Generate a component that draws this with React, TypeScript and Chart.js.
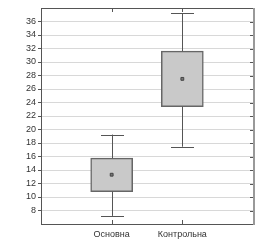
import React, { useEffect, useRef } from "react";
import { Chart, registerables } from "chart.js";

Chart.register(...registerables);

const categories = ["", "Основна", "Контрольна", ""];
const q1 = [null, 10.8, 23.4, null];
const q3 = [null, 15.75, 31.6, null];
const medians = [null, 13.3, 27.5, null];
const mins = [null, 7.2, 17.45, null];
const maxs = [null, 19.25, 37.2, null];
const yTicks = [8, 10, 12, 14, 16, 18, 20, 22, 24, 26, 28, 30, 32, 34, 36];

const FONT = "'Liberation Sans', Arial, sans-serif";

const framePlugin = {
  id: "frame",
  afterDatasetsDraw(chart: any) {
    const { ctx, chartArea, scales } = chart;
    const x = scales.x;
    const y = scales.y;
    const { left, right, top, bottom } = chartArea;
    ctx.save();
    ctx.strokeStyle = "#555";
    ctx.lineWidth = 1;
    for (let i = 0; i < categories.length; i++) {
      if (mins[i] == null) continue;
      const cx = Math.round(x.getPixelForValue(i)) + 0.5;
      const yMin = y.getPixelForValue(mins[i]);
      const yMax = y.getPixelForValue(maxs[i]);
      const yQ1 = y.getPixelForValue(q1[i]);
      const yQ3 = y.getPixelForValue(q3[i]);
      const half = 11.5;
      ctx.beginPath();
      ctx.moveTo(cx, yQ3);
      ctx.lineTo(cx, yMax);
      ctx.moveTo(cx - half, Math.round(yMax) + 0.5);
      ctx.lineTo(cx + half, Math.round(yMax) + 0.5);
      ctx.moveTo(cx, yQ1);
      ctx.lineTo(cx, yMin);
      ctx.moveTo(cx - half, Math.round(yMin) + 0.5);
      ctx.lineTo(cx + half, Math.round(yMin) + 0.5);
      ctx.stroke();
    }
    ctx.strokeStyle = "#555";
    ctx.lineWidth = 1;
    ctx.beginPath();
    ctx.moveTo(left, top + 0.5);
    ctx.lineTo(right, top + 0.5);
    ctx.moveTo(left, bottom + 0.5);
    ctx.lineTo(right, bottom + 0.5);
    ctx.stroke();
    ctx.strokeStyle = "#999";
    ctx.lineWidth = 2;
    ctx.beginPath();
    ctx.moveTo(right + 1, top);
    ctx.lineTo(right + 1, bottom + 1);
    ctx.stroke();
    ctx.strokeStyle = "#555";
    ctx.lineWidth = 1;
    ctx.beginPath();
    for (const v of yTicks) {
      const py = Math.round(y.getPixelForValue(v)) + 0.5;
      ctx.moveTo(right - 3, py);
      ctx.lineTo(right, py);
    }
    for (let i = 0; i < categories.length; i++) {
      if (!categories[i]) continue;
      const px = Math.round(x.getPixelForValue(i)) + 0.5;
      ctx.moveTo(px, top);
      ctx.lineTo(px, top + 4);
      ctx.moveTo(px, bottom);
      ctx.lineTo(px, bottom - 4);
    }
    ctx.stroke();
    ctx.restore();
  },
};

export default function App() {
  const ref = useRef<HTMLCanvasElement | null>(null);
  useEffect(() => {
    if (!ref.current) return;
    const chart = new Chart(ref.current, {
      type: "bar",
      data: {
        labels: categories,
        datasets: [
          {
            type: "bar",
            order: 2,
            data: categories.map((_, i) => (q1[i] == null ? null : [q1[i], q3[i]])) as any,
            backgroundColor: "#c9c9c9",
            borderColor: "#666",
            borderWidth: 1.5,
            borderSkipped: false,
            barThickness: 42,
          } as any,
          {
            type: "line",
            order: 1,
            data: medians as any,
            showLine: false,
            pointStyle: "rect",
            pointRadius: 2,
            pointBackgroundColor: "#777",
            pointBorderColor: "#444",
            pointBorderWidth: 1,
          } as any,
        ],
      },
      options: {
        animation: false,
        responsive: true,
        maintainAspectRatio: false,
        layout: { padding: { top: 8, right: 27, left: 0, bottom: 0 } },
        plugins: { legend: { display: false }, tooltip: { enabled: false } },
        scales: {
          x: {
            type: "category",
            offset: false,
            grid: { display: false, drawTicks: false },
            border: { display: false },
            ticks: {
              autoSkip: false,
              maxRotation: 0,
              padding: 5,
              color: "#333",
              font: { family: FONT, size: 9 },
            },
            afterFit: (s: any) => {
              s.height = 16;
            },
          },
          y: {
            min: 6,
            max: 38,
            afterBuildTicks: (s: any) => {
              s.ticks = yTicks.map((v) => ({ value: v }));
            },
            grid: { color: "#d8d8d8", tickColor: "#555", tickLength: 3 },
            border: { display: true, color: "#555" },
            ticks: {
              padding: 2,
              color: "#333",
              font: { family: FONT, size: 9 },
            },
            afterFit: (s: any) => {
              s.width = 41;
            },
          },
        },
      },
      plugins: [framePlugin],
    });
    return () => chart.destroy();
  }, []);
  return (
    <div style={{ position: "fixed", left: 0, top: 0, width: 280, height: 240, background: "#fff" }}>
      <canvas ref={ref} />
    </div>
  );
}
